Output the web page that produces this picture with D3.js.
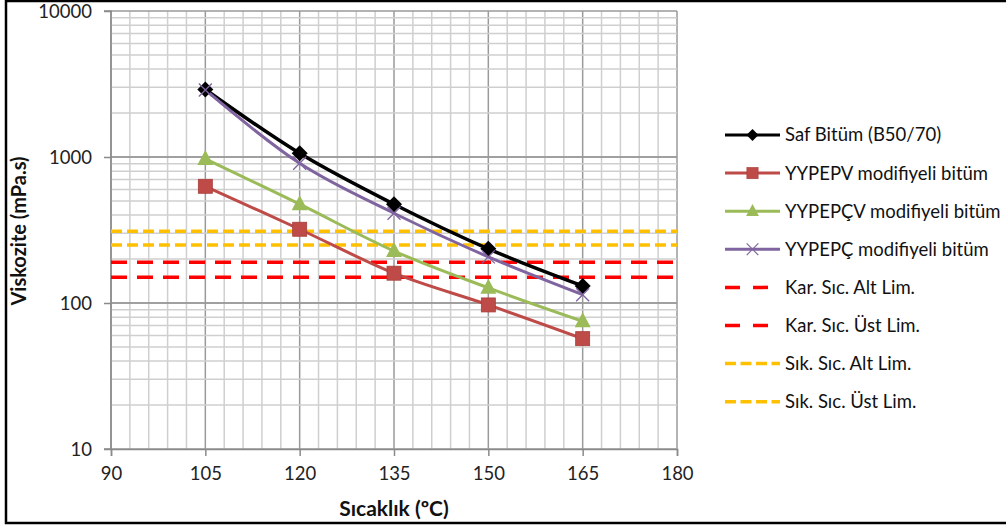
<!DOCTYPE html>
<html><head><meta charset="utf-8">
<script src="https://cdn.jsdelivr.net/npm/d3@7"></script>
<style>
html,body{margin:0;padding:0;background:#fff;}
svg{display:block;font-family:Lato,"Liberation Sans",sans-serif;}
</style></head><body>
<svg id="c" width="1006" height="527"></svg>
<script>
const temps = [105, 120, 135, 150, 165];
const safBitum = [2900, 1060, 475, 235, 131];
const yypepv = [630, 320, 160, 97, 57];
const yypepcv = [970, 475, 227, 127, 75];
const yypepc = [2880, 905, 412, 207, 114];
const seriesNames = ["Saf Bitüm (B50/70)", "YYPEPV modifiyeli bitüm", "YYPEPÇV modifiyeli bitüm", "YYPEPÇ modifiyeli bitüm"];
const limitNames = ["Kar. Sıc. Alt Lim.", "Kar. Sıc. Üst Lim.", "Sık. Sıc. Alt Lim.", "Sık. Sıc. Üst Lim."];
const limitValues = [150, 190, 250, 310];
const xTicks = [90, 105, 120, 135, 150, 165, 180];
const yTicks = [10, 100, 1000, 10000];
const xTitle = "Sıcaklık (ºC)";
const yTitle = "Viskozite (mPa.s)";

const svg = d3.select("#c");
const L = 111, R = 677, T = 11, B = 449;
const x = d3.scaleLinear().domain([90, 180]).range([L, R]);
const y = d3.scaleLog().domain([10, 10000]).range([B, T]);

// frame
svg.append("rect").attr("x", 6).attr("y", 1).attr("width", 1010).attr("height", 522)
  .attr("fill", "none").attr("stroke", "#000").attr("stroke-width", 2.5);

const g = svg.append("g");
const xMinor = d3.range(90, 181, 3);
g.selectAll(".vx").data(xMinor).join("line")
  .attr("x1", d => x(d)).attr("x2", d => x(d)).attr("y1", T).attr("y2", B)
  .attr("stroke", d => (d % 15 === 0) ? "#9a9a9a" : "#cfcfcf").attr("stroke-width", 1.5);
const yMinor = [];
[10, 100, 1000].forEach(dec => { for (let k = 1; k <= 10; k++) yMinor.push(dec * k); });
g.selectAll(".hy").data(yMinor).join("line")
  .attr("x1", L).attr("x2", R).attr("y1", d => y(d)).attr("y2", d => y(d))
  .attr("stroke", d => yTicks.includes(d) ? "#9a9a9a" : "#cfcfcf").attr("stroke-width", 1.5);

// axes
const xAxis = d3.axisBottom(x).tickValues(xTicks).tickSize(7).tickPadding(8).tickFormat(d3.format("d"));
const yAxis = d3.axisLeft(y).tickValues(yTicks).tickSize(7).tickPadding(12).tickFormat(d3.format("d"));
const gx = svg.append("g").attr("transform", `translate(0,${B})`).call(xAxis);
const gy = svg.append("g").attr("transform", `translate(${L},0)`).call(yAxis);
[gx, gy].forEach(a => {
  a.select(".domain").attr("stroke", "#8a8a8a").attr("stroke-width", 1.5);
  a.selectAll(".tick line").attr("stroke", "#8a8a8a").attr("stroke-width", 1.5);
  a.selectAll("text").attr("fill", "#222").style("font-size", "18.5px").style("font-family", "Lato");
});
gy.select(".domain").attr("d", `M-7,${T}H0V${B}H-7`);
gx.selectAll("text").attr("dy", "0.85em");
gy.selectAll("text").attr("dy", "0.35em");

svg.append("text").attr("x", 394).attr("y", 516).attr("text-anchor", "middle")
  .style("font-size", "21px").style("font-weight", "bold").attr("fill", "#111").text(xTitle);
svg.append("text").attr("transform", "translate(26,231) rotate(-90)").attr("text-anchor", "middle")
  .style("font-size", "20px").style("font-weight", "bold").attr("fill", "#111").text(yTitle);

// limit lines
const limitColors = ["#ff0000", "#ff0000", "#ffc000", "#ffc000"];
const limitDash = ["16,10", "16,10", "11,5", "11,5"];
svg.selectAll(".lim").data(limitValues).join("line")
  .attr("x1", L).attr("x2", R).attr("y1", d => y(d)).attr("y2", d => y(d))
  .attr("stroke", (d, i) => limitColors[i]).attr("stroke-width", 3.5)
  .attr("stroke-dasharray", (d, i) => limitDash[i]);

// series
const seriesData = [safBitum, yypepv, yypepcv, yypepc];
const colors = ["#000000", "#be4b48", "#9bbb59", "#7f64a0"];
const markerTypes = ["diamond", "square", "triangle", "x"];
const line = d3.line().x(d => x(d[0])).y(d => y(d[1])).curve(d3.curveCardinal.tension(0));

function drawMarker(sel, type, color, cx, cy) {
  if (type === "diamond") {
    sel.append("path").attr("d", `M${cx},${cy-8}L${cx+8},${cy}L${cx},${cy+8}L${cx-8},${cy}Z`).attr("fill", color);
  } else if (type === "square") {
    sel.append("rect").attr("x", cx - 7).attr("y", cy - 7).attr("width", 14).attr("height", 14)
      .attr("fill", color).attr("stroke", "#a83d3a").attr("stroke-width", 0.8);
  } else if (type === "triangle") {
    sel.append("path").attr("d", `M${cx},${cy-9}L${cx+8},${cy+6}L${cx-8},${cy+6}Z`).attr("fill", color);
  } else {
    sel.append("path").attr("d", `M${cx-6.5},${cy-6.5}L${cx+6.5},${cy+6.5}M${cx-6.5},${cy+6.5}L${cx+6.5},${cy-6.5}`)
      .attr("stroke", color).attr("stroke-width", 1.3).attr("fill", "none");
  }
}

[0, 1, 2, 3].forEach(i => {
  const pts = temps.map((t, j) => [t, seriesData[i][j]]);
  svg.append("path").datum(pts).attr("d", line).attr("fill", "none")
    .attr("stroke", colors[i]).attr("stroke-width", i === 0 ? 3.5 : 3);
});
[0, 1, 2, 3].forEach(i => {
  const mg = svg.append("g");
  temps.forEach((t, j) => drawMarker(mg, markerTypes[i], colors[i], x(t), y(seriesData[i][j])));
});

// legend
const legend = svg.append("g");
const names = seriesNames.concat(limitNames);
names.forEach((n, i) => {
  const cy = 135 + i * 38.1;
  const lg = legend.append("g");
  if (i < 4) {
    lg.append("line").attr("x1", 725).attr("x2", 780).attr("y1", cy).attr("y2", cy)
      .attr("stroke", colors[i]).attr("stroke-width", 3);
    const small = { diamond: 0.75, square: 0.8, triangle: 0.8, x: 0.9 }[markerTypes[i]];
    const mg = lg.append("g").attr("transform", `translate(752.5,${cy}) scale(${small})`);
    drawMarker(mg, markerTypes[i], colors[i], 0, 0);
  } else {
    const k = i - 4;
    lg.append("line").attr("x1", 725).attr("x2", 780).attr("y1", cy).attr("y2", cy)
      .attr("stroke", limitColors[k]).attr("stroke-width", 3.5)
      .attr("stroke-dasharray", k < 2 ? "15,13" : "11,4.5");
  }
  lg.append("text").attr("x", 785).attr("y", cy).attr("dy", "0.35em")
    .style("font-size", "18.5px").attr("fill", "#111").text(n);
});
</script>
</body></html>
